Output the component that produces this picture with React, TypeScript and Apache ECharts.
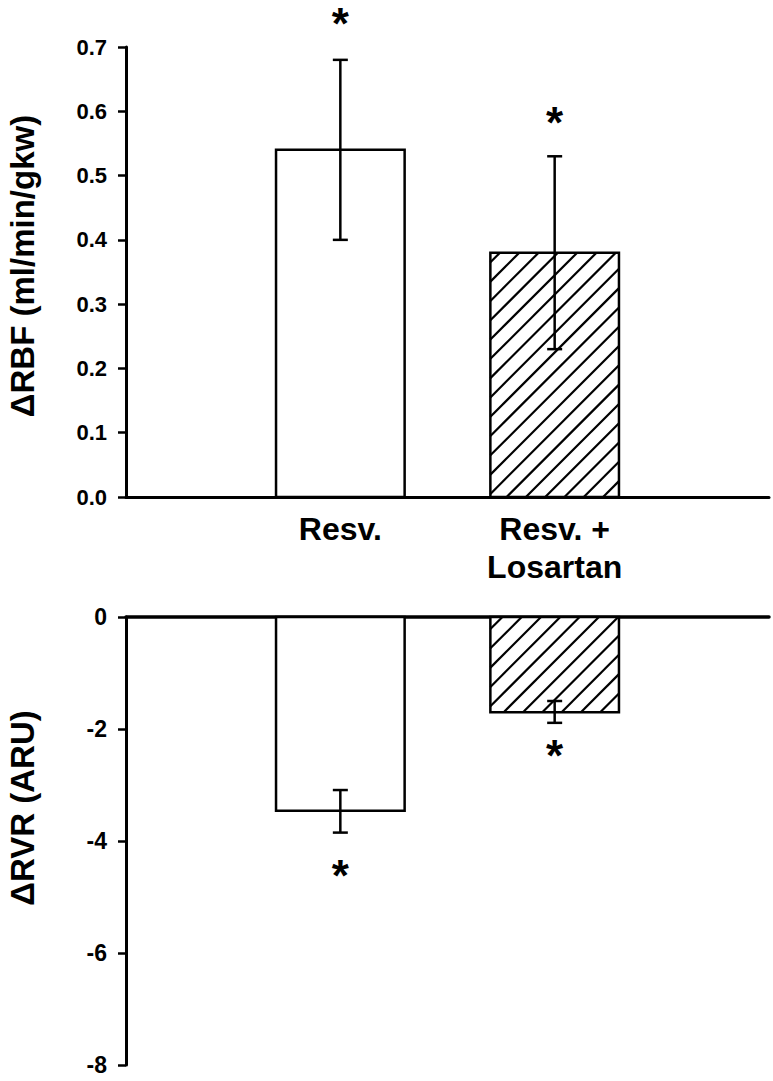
import React, { useEffect, useRef } from "react";
import * as echarts from "echarts";

// ---- data ----
const categories = ["Resv.", "Resv. +\nLosartan"];
const hatched = [0, 1];

const rbfValues = [0.54, 0.38];
const rbfErrLow = [0.4, 0.23];
const rbfErrHigh = [0.68, 0.53];
const rbfStar = [0.745, 0.59];

const rvrValues = [-3.46, -1.7];
const rvrErrLow = [-3.85, -1.89];
const rvrErrHigh = [-3.09, -1.5];
const rvrStar = [-4.52, -2.39];

const rbfAxis = { min: 0, max: 0.7, interval: 0.1 };
const rvrAxis = { min: -8, max: 0, interval: 2 };

const rbfTitle = "\u0394RBF (ml/min/gkw)";
const rvrTitle = "\u0394RVR (ARU)";

const FONT = '"Liberation Sans", Arial, Helvetica, sans-serif';
const axisCats = ["", ...categories, ""];

function barRender(params: any, api: any) {
  const idx = api.value(0);
  const val = api.value(1);
  const hatch = api.value(2);
  const base = api.coord([idx, 0]);
  const top = api.coord([idx, val]);
  const band = api.coord([1, 0])[0] - api.coord([0, 0])[0];
  const w = band * 0.6;
  const x0 = base[0] - w / 2;
  const x1 = x0 + w;
  const y0 = Math.min(base[1], top[1]);
  const y1 = Math.max(base[1], top[1]);
  const children: any[] = [
    {
      type: "rect",
      shape: { x: x0, y: y0, width: w, height: y1 - y0 },
      style: { fill: "#fff", stroke: "none" },
    },
  ];
  if (hatch) {
    const s = 19.3;
    const cStart = Math.ceil((x0 + y0) / s) * s;
    for (let c = cStart; c < x1 + y1; c += s) {
      const xa = Math.max(x0, c - y1);
      const xb = Math.min(x1, c - y0);
      if (xb <= xa) continue;
      children.push({
        type: "line",
        shape: { x1: xa, y1: c - xa, x2: xb, y2: c - xb },
        style: { stroke: "#000", lineWidth: 2.2 },
      });
    }
  }
  children.push({
    type: "rect",
    shape: { x: x0, y: y0, width: w, height: y1 - y0 },
    style: { fill: "none", stroke: "#000", lineWidth: 2.5 },
  });
  return { type: "group", children };
}

function errRender(params: any, api: any) {
  const idx = api.value(0);
  const lo = api.coord([idx, api.value(1)]);
  const hi = api.coord([idx, api.value(2)]);
  const st = api.coord([idx, api.value(3)]);
  const cap = 7.5;
  const st1 = { stroke: "#000", lineWidth: 2.5 };
  return {
    type: "group",
    children: [
      { type: "line", shape: { x1: lo[0], y1: lo[1], x2: hi[0], y2: hi[1] }, style: st1 },
      { type: "line", shape: { x1: lo[0] - cap, y1: lo[1], x2: lo[0] + cap, y2: lo[1] }, style: st1 },
      { type: "line", shape: { x1: hi[0] - cap, y1: hi[1], x2: hi[0] + cap, y2: hi[1] }, style: st1 },
      {
        type: "text",
        x: st[0],
        y: st[1] + 5,
        style: {
          text: "*",
          fill: "#000",
          font: `bold 44px ${FONT}`,
          align: "center",
          verticalAlign: "middle",
        },
      },
    ],
  };
}

export default function App() {
  const ref = useRef<HTMLDivElement>(null);
  useEffect(() => {
    if (!ref.current) return;
    const chart = echarts.init(ref.current, undefined, { renderer: "svg" });

    const yCommon = (fontSize: number) => ({
      type: "value" as const,
      axisLine: { show: true, lineStyle: { color: "#000", width: 3 } },
      axisTick: { show: true, length: 8, lineStyle: { color: "#000", width: 2.5 } },
      splitLine: { show: false },
      axisLabel: {
        color: "#000",
        fontSize,
        fontWeight: "bold" as const,
        fontFamily: FONT,
        margin: 19,
      },
    });

    const option: any = {
      animation: false,
      backgroundColor: "#fff",
      grid: [
        { left: 126, top: 47, width: 643, height: 450 },
        { left: 126, top: 617, width: 643, height: 448 },
      ],
      xAxis: [
        {
          gridIndex: 0,
          type: "category",
          data: axisCats,
          boundaryGap: false,
          axisLine: { show: true, lineStyle: { color: "#000", width: 3 } },
          axisTick: { show: false },
          splitLine: { show: false },
          axisLabel: {
            interval: 0,
            color: "#000",
            fontSize: 32,
            fontWeight: "bold",
            fontFamily: FONT,
            lineHeight: 38,
            margin: 13,
          },
        },
        {
          gridIndex: 1,
          type: "category",
          data: axisCats,
          boundaryGap: false,
          position: "top",
          axisLine: { show: true, onZero: false, lineStyle: { color: "#000", width: 3.5 } },
          axisTick: { show: false },
          axisLabel: { show: false },
          splitLine: { show: false },
        },
      ],
      yAxis: [
        {
          gridIndex: 0,
          ...yCommon(22),
          min: rbfAxis.min,
          max: rbfAxis.max,
          interval: rbfAxis.interval,
          axisLabel: { ...yCommon(22).axisLabel, formatter: (v: number) => v.toFixed(1) },
        },
        {
          gridIndex: 1,
          ...yCommon(23),
          min: rvrAxis.min,
          max: rvrAxis.max,
          interval: rvrAxis.interval,
        },
      ],
      series: [
        {
          type: "custom",
          xAxisIndex: 0,
          yAxisIndex: 0,
          renderItem: barRender,
          data: rbfValues.map((v, i) => [i + 1, v, hatched[i]]),
          z: 1,
        },
        {
          type: "custom",
          xAxisIndex: 0,
          yAxisIndex: 0,
          renderItem: errRender,
          data: rbfValues.map((_, i) => [i + 1, rbfErrLow[i], rbfErrHigh[i], rbfStar[i]]),
          z: 3,
        },
        {
          type: "custom",
          xAxisIndex: 1,
          yAxisIndex: 1,
          renderItem: barRender,
          data: rvrValues.map((v, i) => [i + 1, v, hatched[i]]),
          z: 1,
        },
        {
          type: "custom",
          xAxisIndex: 1,
          yAxisIndex: 1,
          renderItem: errRender,
          data: rvrValues.map((_, i) => [i + 1, rvrErrLow[i], rvrErrHigh[i], rvrStar[i]]),
          z: 3,
        },
      ],
      graphic: [
        {
          type: "text",
          x: 22,
          y: 266,
          rotation: Math.PI / 2,
          style: {
            text: rbfTitle,
            fill: "#000",
            font: `bold 33px ${FONT}`,
            align: "center",
            verticalAlign: "middle",
          },
        },
        {
          type: "text",
          x: 22,
          y: 808,
          rotation: Math.PI / 2,
          style: {
            text: rvrTitle,
            fill: "#000",
            font: `bold 33px ${FONT}`,
            align: "center",
            verticalAlign: "middle",
          },
        },
      ],
    };
    chart.setOption(option);
    return () => chart.dispose();
  }, []);
  return (
    <div
      ref={ref}
      style={{ position: "absolute", left: 0, top: 0, width: 773, height: 1081 }}
    />
  );
}
